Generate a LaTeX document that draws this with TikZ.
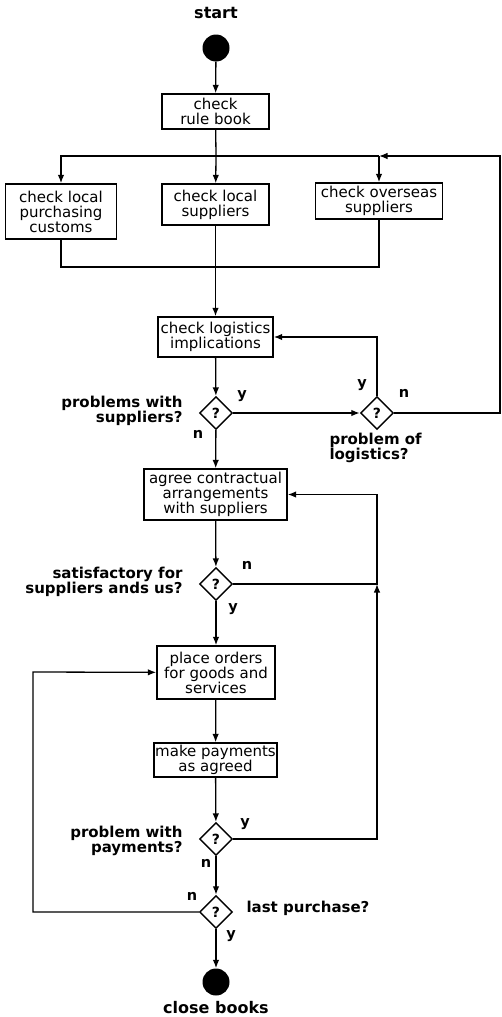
\documentclass[tikz,border=0pt]{standalone}
\usepackage{fontspec}
\setmainfont{DejaVu Sans}
\usetikzlibrary{arrows.meta,shapes.geometric}
\begin{document}
\begin{tikzpicture}[x=1pt,y=-1pt,
  every node/.style={font=\fontsize{15}{15}\selectfont},
  act/.style={draw,line width=1.4pt,align=center,inner sep=1pt},
  dec/.style={diamond,draw,line width=1.4pt,minimum width=33pt,minimum height=33pt,
    inner sep=0pt,aspect=1,font=\bfseries\fontsize{14}{15}\selectfont},
  term/.style={circle,fill=black,minimum size=27pt,inner sep=0pt},
  lab/.style={font=\bfseries\fontsize{15}{15}\selectfont},
  ttl/.style={font=\bfseries\fontsize{16}{16}\selectfont},
  yn/.style={font=\bfseries\fontsize{14.5}{15}\selectfont,inner sep=0pt},
  link/.style={line width=1.3pt},
  flow/.style={line width=1.3pt,-{Latex[length=8.5pt,width=6.5pt]}}]
\useasboundingbox (0,0) rectangle (501,1017);

% terminals
\node[ttl] (startlbl) at (216,13) {start};
\node[term] (start) at (216,48) {};
\node[term] (end) at (216,982) {};
\node[ttl] (endlbl) at (216,1008) {close books};

% activities
\node[act,minimum width=107pt,minimum height=35pt] (rb) at (215.5,111.5) {check\\rule book};
\node[act,minimum width=111pt,minimum height=55pt] (lp) at (61,211.5) {check local\\purchasing\\customs};
\node[act,minimum width=107pt,minimum height=41pt] (ls) at (215.5,204.5) {check local\\suppliers};
\node[act,minimum width=127pt,minimum height=36pt] (os) at (379,201) {check overseas\\suppliers};
\node[act,minimum width=115pt,minimum height=40pt] (lg) at (215.5,337) {check logistics\\implications};
\node[act,minimum width=143pt,minimum height=51pt] (ag) at (215.5,494.5) {agree contractual\\arrangements\\with suppliers};
\node[act,minimum width=118pt,minimum height=53pt] (po) at (216,672.5) {place orders\\for goods and\\services};
\node[act,minimum width=123pt,minimum height=34pt] (mp) at (215.5,760) {make payments\\as agreed};

% decisions
\node[dec] (d1) at (216,413) {?};
\node[dec] (d2) at (377,413) {?};
\node[dec] (d3) at (216,584) {?};
\node[dec] (d4) at (216,839) {?};
\node[dec] (d5) at (216,912) {?};

% decision questions
\node[lab,anchor=east,align=right] (q1) at (186,411) {problems with\\suppliers?};
\node[lab,anchor=west,align=left] (q2) at (326,448) {problem of\\logistics?};
\node[lab,anchor=east,align=right] (q3) at (186,582) {satisfactory for\\suppliers ands us?};
\node[lab,anchor=east,align=right] (q4) at (186,841) {problem with\\payments?};
\node[lab,anchor=west] (q5) at (243,908) {last purchase?};

% branch labels
\node[yn] (y1) at (242,396) {y};
\node[yn] (n1) at (198,434) {n};
\node[yn] (y2) at (362,385) {y};
\node[yn] (n2) at (404,393) {n};
\node[yn] (n3) at (247,565) {n};
\node[yn] (y3) at (233,609) {y};
\node[yn] (y4) at (245,824) {y};
\node[yn] (n4) at (206,863) {n};
\node[yn] (n5) at (192,896) {n};
\node[yn] (y5) at (231,936) {y};

% routing points
\coordinate (fork) at (216,156);
\coordinate (join) at (379,156);
\coordinate (rt) at (500,156);
\coordinate (mg) at (216,267);
\coordinate (j3) at (377,584);
\coordinate (lx) at (33,672);

% connectors
\draw[flow] (start) -- (rb);
\draw[link] (rb) -- (fork);
\draw[flow] (fork) -- (ls);
\draw[flow] (fork) -| (lp);
\draw[link] (fork) -- (join);
\draw[flow] (join) -- (os);
\draw[link] (lp) |- (mg -| os) -- (os);
\draw[flow] (ls) -- (lg);
\draw[flow] (lg) -- (d1);
\draw[flow] (d1) -- (d2);
\draw[flow] (d2) |- (lg);
\draw[flow] (d2) -- (d2 -| rt) -- (rt) -- (join);
\draw[flow] (d1) -- (ag);
\draw[flow] (ag) -- (d3);
\draw[flow] (d3) -- (j3) |- (ag);
\draw[flow] (d3) -- (po);
\draw[flow] (po) -- (mp);
\draw[flow] (mp) -- (d4);
\draw[flow] (d4) -| (j3);
\draw[flow] (d4) -- (d5);
\draw[flow] (d5) -| (lx) -- (po);
\draw[flow] (d5) -- (end);
\end{tikzpicture}
\end{document}
